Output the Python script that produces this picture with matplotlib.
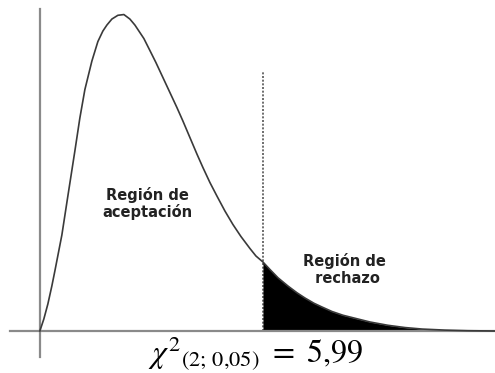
import numpy as np
import matplotlib
matplotlib.use("Agg")
import matplotlib.pyplot as plt

# curve (chi-square value, height)
chi_x = [0.000, 0.107, 0.215, 0.322, 0.403, 0.591, 0.752, 0.940, 1.074, 1.209,
         1.397, 1.558, 1.692, 1.800, 1.934, 2.095, 2.256, 2.417, 2.552, 2.686,
         2.793, 2.955, 3.116, 3.304, 3.492, 3.680, 3.841, 4.029, 4.217, 4.378,
         4.566, 4.754, 4.969, 5.184, 5.399, 5.641, 5.802, 5.990, 6.178, 6.393,
         6.661, 6.903, 7.118, 7.360, 7.575, 7.843, 8.139, 8.461, 8.864, 9.347,
         9.804, 10.261, 10.878, 11.496, 12.221]
dens_y = [0.000, 0.008, 0.018, 0.030, 0.040, 0.064, 0.090, 0.120, 0.142, 0.161,
          0.180, 0.193, 0.200, 0.204, 0.208, 0.2105, 0.211, 0.208, 0.204, 0.199,
          0.195, 0.187, 0.179, 0.169, 0.159, 0.149, 0.140, 0.129, 0.118, 0.109,
          0.099, 0.090, 0.080, 0.071, 0.063, 0.055, 0.050, 0.046, 0.041, 0.0355,
          0.030, 0.0255, 0.022, 0.0185, 0.016, 0.013, 0.0105, 0.0085, 0.006, 0.0038,
          0.0023, 0.0013, 0.0006, 0.0002, 0.0]
critical = 5.99
dash_top = 0.173

x = np.array(chi_x)
y = np.array(dens_y)

fig = plt.figure(figsize=(4.95, 3.73), dpi=100)
ax = fig.add_axes([0, 0, 1, 1])
ax.set_xlim(-1.07, 12.22)
ax.set_ylim(-0.028, 0.2207)

# axes through the origin
for side in ["top", "right"]:
    ax.spines[side].set_visible(False)
ax.spines["left"].set_position(("data", 0))
ax.spines["bottom"].set_position(("data", 0))
ax.spines["left"].set_bounds(-0.0173, 0.215)
ax.spines["bottom"].set_bounds(-0.81, 12.22)
for side in ["left", "bottom"]:
    ax.spines[side].set_color("#8a8a8a")
    ax.spines[side].set_linewidth(1.6)
ax.set_xticks([])
ax.set_yticks([])
ax.patch.set_alpha(0)

ax.plot(x, y, color="#3a3a3a", lw=1.2, zorder=3, solid_joinstyle="round")
mask = x >= critical
ax.fill_between(x[mask], 0, y[mask], color="black", lw=0, zorder=2)
ax.vlines(critical, 0, dash_top, colors="#555555", lw=1.2,
          linestyles=(0, (1.2, 1.0)), zorder=1)

ax.text(2.90, 0.085, "Región de\naceptación", ha="center", va="center",
        fontsize=10.5, fontweight="bold", family="DejaVu Sans", color="#222222",
        linespacing=1.15)
ax.text(8.19, 0.041, "Región de\n rechazo", ha="center", va="center",
        fontsize=10.5, fontweight="bold", family="DejaVu Sans", color="#222222",
        linespacing=1.15)

plt.rcParams["mathtext.fontset"] = "stix"
ax.text(5.80, -0.0213, r"$\chi^{2}{}_{(2;\,0{,}05)}\ =\ 5{,}99$", ha="center",
        va="baseline", fontsize=23, color="black")

fig.savefig("out.png", dpi=100, facecolor="white")
